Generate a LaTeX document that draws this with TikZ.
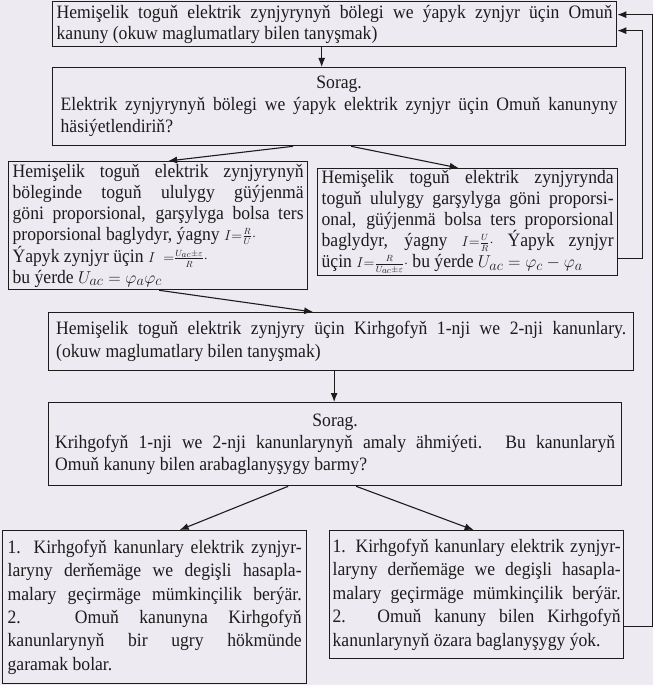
\documentclass[tikz,border=0pt]{standalone}
\usepackage{amsmath}
\usepackage{fontspec}
\setmainfont{Liberation Serif}[FakeStretch=0.93]
\usepackage{xcolor}
\usepackage{tikz}
\usetikzlibrary{arrows.meta}
\definecolor{fcPaper}{HTML}{EDEAF1}
\definecolor{fcInk}{HTML}{1C1C1C}
\tikzset{
  fc diagram/.style={x=1bp, y=-1bp, text=fcInk,
    font=\fontsize{19}{22}\selectfont},
  fc box/.style={draw=fcInk, line width=1.3pt, anchor=north west,
    align=justify, inner xsep=4bp, inner ysep=2bp},
  fc arrow/.style={-{Latex[length=9bp,width=7bp]}, draw=fcInk, line width=1.1pt},
  fc back/.style={fc arrow, rounded corners=0pt}
}
\begin{document}
\begin{tikzpicture}[fc diagram]
\fill[fcPaper] (0,0) rectangle (653,685);
\useasboundingbox (0,0) rectangle (653,685);
% first law
\node[fc box,font=\fontsize{19}{21}\selectfont,minimum width=564bp,minimum height=45bp,text width=556bp] (ohm) at (52,1)
  {Hemişelik toguň elektrik zynjyrynyň bölegi we ýapyk zynjyr üçin Omuň\linebreak
   kanuny (okuw maglumatlary bilen tanyşmak)};
\node[fc box,minimum width=573bp,minimum height=78bp,text width=557bp] (q1) at (52,67)
  {\makebox[\linewidth][c]{Sorag.}\\
   Elektrik zynjyrynyň bölegi we ýapyk elektrik zynjyr üçin Omuň kanunyny\linebreak
   häsiýetlendiriň?};
\node[fc box,font=\fontsize{19}{21}\selectfont,minimum width=298bp,minimum height=128bp,text width=291bp] (ansA) at (8,161)
  {Hemişelik toguň elektrik zynjyrynyň\linebreak
   böleginde toguň ululygy güýjenmä\linebreak
   göni proporsional, garşylyga bolsa ters\linebreak
   proporsional baglydyr, ýagny $\scriptstyle I=\frac{R}{U}\cdot$\\
   Ýapyk zynjyr üçin $\scriptstyle I\;\;=\frac{U_{ac}\pm\varepsilon}{R}\cdot$\\
   bu ýerde $U_{ac}=\varphi_a\varphi_c$};
\node[fc box,font=\fontsize{19}{21}\selectfont,minimum width=299bp,minimum height=102bp,text width=292bp] (ansB) at (317,168)
  {Hemişelik toguň elektrik zynjyrynda\linebreak
   toguň ululygy garşylyga göni proporsi-\linebreak
   onal, güýjenmä bolsa ters proporsional\linebreak
   baglydyr, ýagny $\scriptstyle I=\frac{U}{R}\cdot$ Ýapyk zynjyr\linebreak
   üçin $\scriptstyle I=\frac{R}{U_{ac}\pm\varepsilon}\cdot$ bu ýerde $U_{ac}=\varphi_c-\varphi_a$};
% second law
\node[fc box,font=\fontsize{19}{23}\selectfont,minimum width=585bp,minimum height=58bp,text width=570bp] (kirh) at (48,312)
  {Hemişelik toguň elektrik zynjyry üçin Kirhgofyň 1-nji we 2-nji kanunlary.\linebreak
   (okuw maglumatlary bilen tanyşmak)};
\node[fc box,minimum width=573bp,minimum height=83bp,text width=560bp] (q2) at (48,402)
  {\makebox[\linewidth][c]{Sorag.}\\
   Krihgofyň 1-nji we 2-nji kanunlarynyň amaly ähmiýeti. Bu kanunlaryň\linebreak
   Omuň kanuny bilen arabaglanyşygy barmy?};
\node[fc box,font=\fontsize{19}{23.5}\selectfont,inner xsep=5bp,minimum width=304bp,minimum height=153bp,text width=294bp] (ansC) at (2,530)
  {1. Kirhgofyň kanunlary elektrik zynjyr-\linebreak
   laryny derňemäge we degişli hasapla-\linebreak
   malary geçirmäge mümkinçilik berýär.\linebreak
   2. Omuň kanunyna Kirhgofyň\linebreak
   kanunlarynyň bir ugry hökmünde\linebreak
   garamak bolar.};
\node[fc box,font=\fontsize{19}{23.5}\selectfont,inner xsep=3bp,minimum width=294bp,minimum height=128bp,text width=288bp] (ansD) at (329,530)
  {1. Kirhgofyň kanunlary elektrik zynjyr-\linebreak
   laryny derňemäge we degişli hasapla-\linebreak
   malary geçirmäge mümkinçilik berýär.\linebreak
   2. Omuň kanuny bilen Kirhgofyň\linebreak
   kanunlarynyň özara baglanyşygy ýok.};
% arrows
\draw[fc arrow] ([xshift=-13bp]ohm.south) -- ([xshift=-13bp]ohm.south |- q1.north);
\draw[fc arrow] ([xshift=-46bp]q1.south) -- ([xshift=10bp]ansA.north);
\draw[fc arrow] ([xshift=12bp]q1.south) -- ([xshift=-9bp]ansB.north);
\draw[fc arrow] ([xshift=1bp]ansA.south) -- ([xshift=-28bp]kirh.north);
\draw[fc arrow] ([xshift=-7bp]kirh.south) -- ([xshift=-7bp]kirh.south |- q2.north);
\draw[fc arrow] ([xshift=-47bp]q2.south) -- ([xshift=25bp]ansC.north);
\draw[fc arrow] ([xshift=21bp]q2.south) -- ([xshift=-3bp]ansD.north);
\draw[fc back] ([yshift=18bp]ansB.south east) -- ++(24,0) |- ([yshift=-6.5bp]ohm.east);
\draw[fc back] ([yshift=33bp]ansD.south east) -- ++(28,0) |- ([yshift=9.5bp]ohm.east);
\end{tikzpicture}
\end{document}
